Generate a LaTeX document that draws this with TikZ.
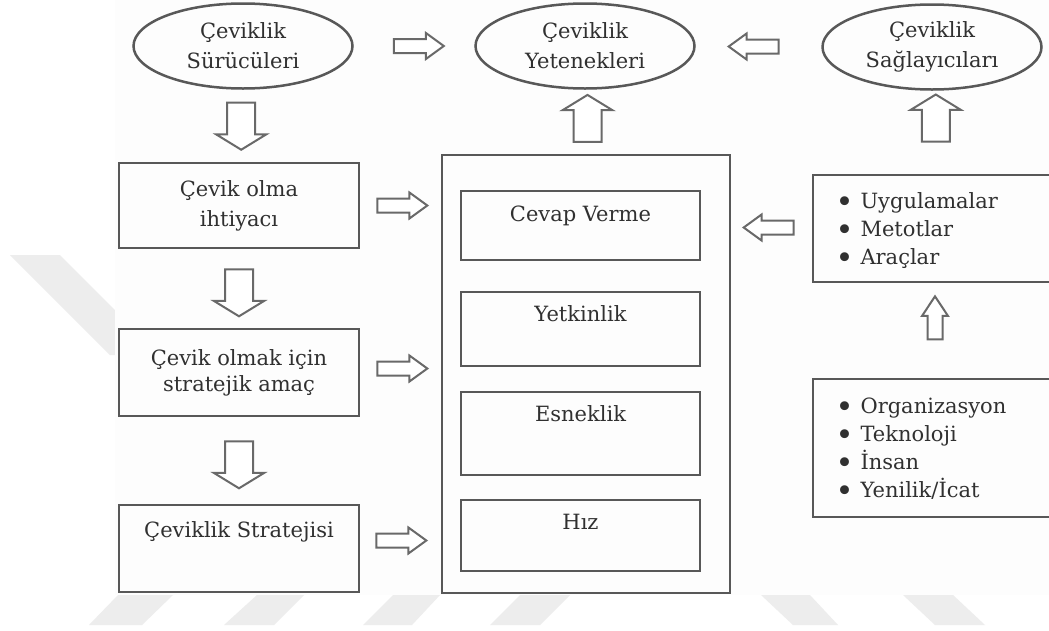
\documentclass[tikz,border=0pt]{standalone}
\usepackage{fontspec}
\usepackage{graphicx}
\setmainfont{DejaVu Serif}
\usetikzlibrary{shapes.geometric,shapes.arrows,calc}
\definecolor{inkgray}{RGB}{48,48,48}
\definecolor{linegray}{RGB}{88,88,88}
\definecolor{arrowgray}{RGB}{105,105,105}
\definecolor{paper}{RGB}{253,253,253}
\definecolor{stripe}{RGB}{237,237,237}
\newcommand{\itemdot}{\makebox[25pt][l]{\raisebox{-3.4pt}{\scalebox{1.45}{•}}}}
\begin{document}
\begin{tikzpicture}[x=1pt,y=-1pt,
  every node/.style={font=\fontsize{21}{30}\selectfont, text=inkgray},
  oval/.style={ellipse, draw=linegray, line width=2.5pt, minimum width=219pt,
    minimum height=85pt, inner sep=0pt, align=center},
  box/.style={rectangle, draw=linegray, line width=2.5pt, inner sep=0pt, align=center},
  arrowbase/.style={single arrow, draw=arrowgray, line width=2pt, fill=white,
    inner xsep=0pt, text height=0pt, text depth=0pt, minimum width=0pt},
  flatarrow/.style={arrowbase, inner ysep=6pt, single arrow head extend=6pt,
    single arrow tip angle=72, minimum height=50pt},
  bigarrow/.style={arrowbase, inner ysep=13pt, single arrow head extend=11pt,
    single arrow tip angle=117, minimum height=47pt},
  thinup/.style={arrowbase, inner ysep=6.5pt, single arrow head extend=5.5pt,
    single arrow tip angle=67, minimum height=43pt},
  bullets/.style={anchor=west, align=left, font=\fontsize{21}{28}\selectfont},
]
\useasboundingbox (0,0) rectangle (1049,630);
\clip (0,0) rectangle (1049,630);
\fill[white] (0,0) rectangle (1049,630);

% faint watermark stripes
\fill[stripe] (10,255) -- (60,255) -- (160,355) -- (110,355) -- cycle;
\fill[stripe] (118,595) -- (173,595) -- (142,625) -- (89,625) -- cycle;
\fill[stripe] (257,595) -- (304,595) -- (274,625) -- (224,625) -- cycle;
\fill[stripe] (393,595) -- (440,595) -- (412,625) -- (363,625) -- cycle;
\fill[stripe] (520,595) -- (570,595) -- (540,625) -- (490,625) -- cycle;
\fill[stripe] (761,595) -- (810,595) -- (838,625) -- (793,625) -- cycle;
\fill[stripe] (903,595) -- (953,595) -- (985,625) -- (935,625) -- cycle;

% diagram sheet
\fill[paper] (115,0) rectangle (1049,595);

% top row
\node[oval] (e1) at (243,46) {Çeviklik\\Sürücüleri};
\node[oval] (e2) at (585,46) {Çeviklik\\Yetenekleri};
\node[oval] (e3) at (932,47) {Çeviklik\\Sağlayıcıları};

% left column
\node[box, minimum width=240pt, minimum height=85pt] (l1) at (239,205.5) {Çevik olma\\ihtiyacı};
\node[box, minimum width=240pt, minimum height=87pt, font=\fontsize{21}{26}\selectfont] (l2) at (239,372.5) {Çevik olmak için\\stratejik amaç};
\node[box, minimum width=240pt, minimum height=87pt] (l3) at (239,548.5) {};
\node[anchor=base] (l3t) at ([yshift=-34pt]l3.north) {Çeviklik Stratejisi};

% centre column
\node[box, minimum width=288pt, minimum height=438pt] (big) at (586,374) {};
\node[box, minimum width=239pt, minimum height=69pt] (c1) at (580.5,225.5) {};
\node[box, minimum width=239pt, minimum height=74pt] (c2) at (580.5,329) {};
\node[box, minimum width=239pt, minimum height=83pt] (c3) at (580.5,433.5) {};
\node[box, minimum width=239pt, minimum height=71pt] (c4) at (580.5,535.5) {};
\node[anchor=base] (c1t) at ([yshift=-32pt]c1.north) {Cevap Verme};
\node[anchor=base] (c2t) at ([yshift=-31pt]c2.north) {Yetkinlik};
\node[anchor=base] (c3t) at ([yshift=-31pt]c3.north) {Esneklik};
\node[anchor=base] (c4t) at ([yshift=-31pt]c4.north) {Hız};

% right column
\node[box, minimum width=242pt, minimum height=107pt] (r1) at (934,228.5) {};
\node[box, minimum width=242pt, minimum height=138pt] (r2) at (934,448) {};
\node[bullets] (r1t) at (832,231)
  {\itemdot Uygulamalar\\\itemdot Metotlar\\\itemdot Araçlar};
\node[bullets] (r2t) at (832,449.5)
  {\itemdot Organizasyon\\\itemdot Teknoloji\\\itemdot İnsan\\\itemdot Yenilik/İcat};

% block arrows
\path (e1.east) -- node[flatarrow] (a1) {} (e2.west);
\path (e2.east) -- node[flatarrow, rotate=180] (a2) {} (e3.west);
\path (e1.south) -- node[pos=.447, bigarrow, rotate=-90] (a3) {} (l1.north);
\path (l1.south) -- node[bigarrow, rotate=-90] (a4) {} (l2.north);
\path (l2.south) -- node[bigarrow, rotate=-90] (a5) {} (l3.north);
\path (big.north) -- node[pos=.485, xshift=2pt, bigarrow, rotate=90] (a6) {} (e2.south);
\path (r1.north) -- node[pos=.62, xshift=3pt, bigarrow, rotate=90] (a7) {} (e3.south);
\path (l1.east) -- node[xshift=-3pt, flatarrow] (a8) {} (l1.east -| big.west);
\path (l2.east) -- node[xshift=-3pt, yshift=4pt, flatarrow] (a9) {} (l2.east -| big.west);
\path (l3.east) -- node[xshift=-4pt, yshift=8pt, flatarrow] (a10) {} (l3.east -| big.west);
\path (r1.west) -- node[xshift=2pt, yshift=1pt, flatarrow, rotate=180] (a11) {} (r1.west -| big.east);
\path (r2.north) -- node[xshift=1pt, yshift=7pt, thinup, rotate=90] (a12) {} (r1.south);
\end{tikzpicture}
\end{document}
